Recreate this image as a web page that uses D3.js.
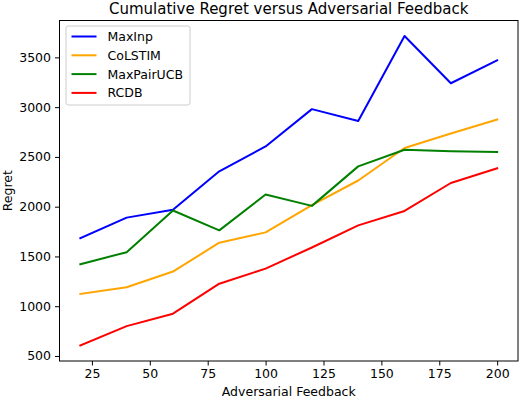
<!DOCTYPE html>
<html>
<head>
<meta charset="utf-8">
<script src="https://cdn.jsdelivr.net/npm/d3@7"></script>
<style>
  body { margin: 0; background: #fff; }
  text { font-family: "DejaVu Sans", sans-serif; fill: #000; }
</style>
</head>
<body>
<div id="chart"></div>
<script>
// adversarial feedback levels
const feedback = [20, 40, 60, 80, 100, 120, 140, 160, 180, 200];

// cumulative regret per method
const maxInp     = [1683, 1890, 1970, 2355, 2605, 2980, 2860, 3715, 3240, 3470];
const coLSTIM    = [1123, 1190, 1348, 1638, 1742, 2015, 2263, 2590, 2735, 2875];
const maxPairUCB = [1422, 1543, 1962, 1762, 2122, 2008, 2405, 2572, 2556, 2550];
const rcdb       = [605, 800, 925, 1226, 1378, 1590, 1812, 1957, 2238, 2386];

const seriesNames = ["MaxInp", "CoLSTIM", "MaxPairUCB", "RCDB"];
const seriesColors = ["#0000ff", "#ffa500", "#008000", "#ff0000"];
const xTicks = [25, 50, 75, 100, 125, 150, 175, 200];
const yTicks = [500, 1000, 1500, 2000, 2500, 3000, 3500];

const series = [maxInp, coLSTIM, maxPairUCB, rcdb].map((vals, i) => ({
  name: seriesNames[i],
  color: seriesColors[i],
  points: vals.map((v, j) => ({x: feedback[j], y: v}))
}));

const width = 520, height = 400;
const margin = {top: 20.5, right: 2, bottom: 39, left: 59.5};
const innerW = width - margin.left - margin.right;
const innerH = height - margin.top - margin.bottom;

const svg = d3.select("#chart").append("svg")
  .attr("width", width)
  .attr("height", height);

const g = svg.append("g")
  .attr("transform", `translate(${margin.left},${margin.top})`);

// matplotlib-style 5% padding around the data
const xExt = d3.extent(feedback);
const xPad = (xExt[1] - xExt[0]) * 0.05;
const allY = series.flatMap(s => s.points.map(p => p.y));
const yExt = d3.extent(allY);
const yPad = (yExt[1] - yExt[0]) * 0.05;

const x = d3.scaleLinear().domain([xExt[0] - xPad, xExt[1] + xPad]).range([0, innerW]);
const y = d3.scaleLinear().domain([yExt[0] - yPad, yExt[1] + yPad]).range([innerH, 0]);

const line = d3.line().x(d => x(d.x)).y(d => y(d.y));

g.selectAll(".series")
  .data(series)
  .join("path")
    .attr("class", "series")
    .attr("d", d => line(d.points))
    .attr("fill", "none")
    .attr("stroke", d => d.color)
    .attr("stroke-width", 2)
    .attr("stroke-linejoin", "round")
    .attr("stroke-linecap", "square");

// axes
const xAxis = g.append("g")
  .attr("transform", `translate(0,${innerH})`)
  .call(d3.axisBottom(x).tickValues(xTicks).tickFormat(d3.format("d")).tickSize(4.5).tickPadding(4));
const yAxis = g.append("g")
  .call(d3.axisLeft(y).tickValues(yTicks).tickFormat(d3.format("d")).tickSize(4.5).tickPadding(4));

[xAxis, yAxis].forEach(a => {
  a.select(".domain").remove();
  a.selectAll("text").style("font-size", "12.5px").style("font-family", "DejaVu Sans, sans-serif");
  a.selectAll("line").attr("stroke", "#000").attr("stroke-width", 1);
});

// frame
g.append("rect")
  .attr("width", innerW)
  .attr("height", innerH)
  .attr("fill", "none")
  .attr("stroke", "#000")
  .attr("stroke-width", 1);

// labels
svg.append("text")
  .attr("x", margin.left + innerW / 2)
  .attr("y", 14)
  .attr("text-anchor", "middle")
  .style("font-size", "15px")
  .text("Cumulative Regret versus Adversarial Feedback");

svg.append("text")
  .attr("x", margin.left + innerW / 2)
  .attr("y", 396)
  .attr("text-anchor", "middle")
  .style("font-size", "12.5px")
  .text("Adversarial Feedback");

svg.append("text")
  .attr("transform", `translate(11.5,${margin.top + innerH / 2}) rotate(-90)`)
  .attr("text-anchor", "middle")
  .style("font-size", "12.5px")
  .text("Regret");

// legend
const legend = g.append("g").attr("transform", "translate(6.5,5.5)");
legend.append("rect")
  .attr("width", 124)
  .attr("height", 79)
  .attr("rx", 2.5)
  .attr("fill", "#fff")
  .attr("fill-opacity", 0.8)
  .attr("stroke", "#cccccc")
  .attr("stroke-width", 1);

const rows = legend.selectAll(".row")
  .data(series)
  .join("g")
    .attr("class", "row")
    .attr("transform", (d, i) => `translate(0,${10.5 + i * 18.8})`);

rows.append("line")
  .attr("x1", 5.5).attr("x2", 30.5)
  .attr("stroke", d => d.color)
  .attr("stroke-width", 2);

rows.append("text")
  .attr("x", 41.5)
  .attr("dy", "0.36em")
  .style("font-size", "12.5px")
  .text(d => d.name);
</script>
</body>
</html>
